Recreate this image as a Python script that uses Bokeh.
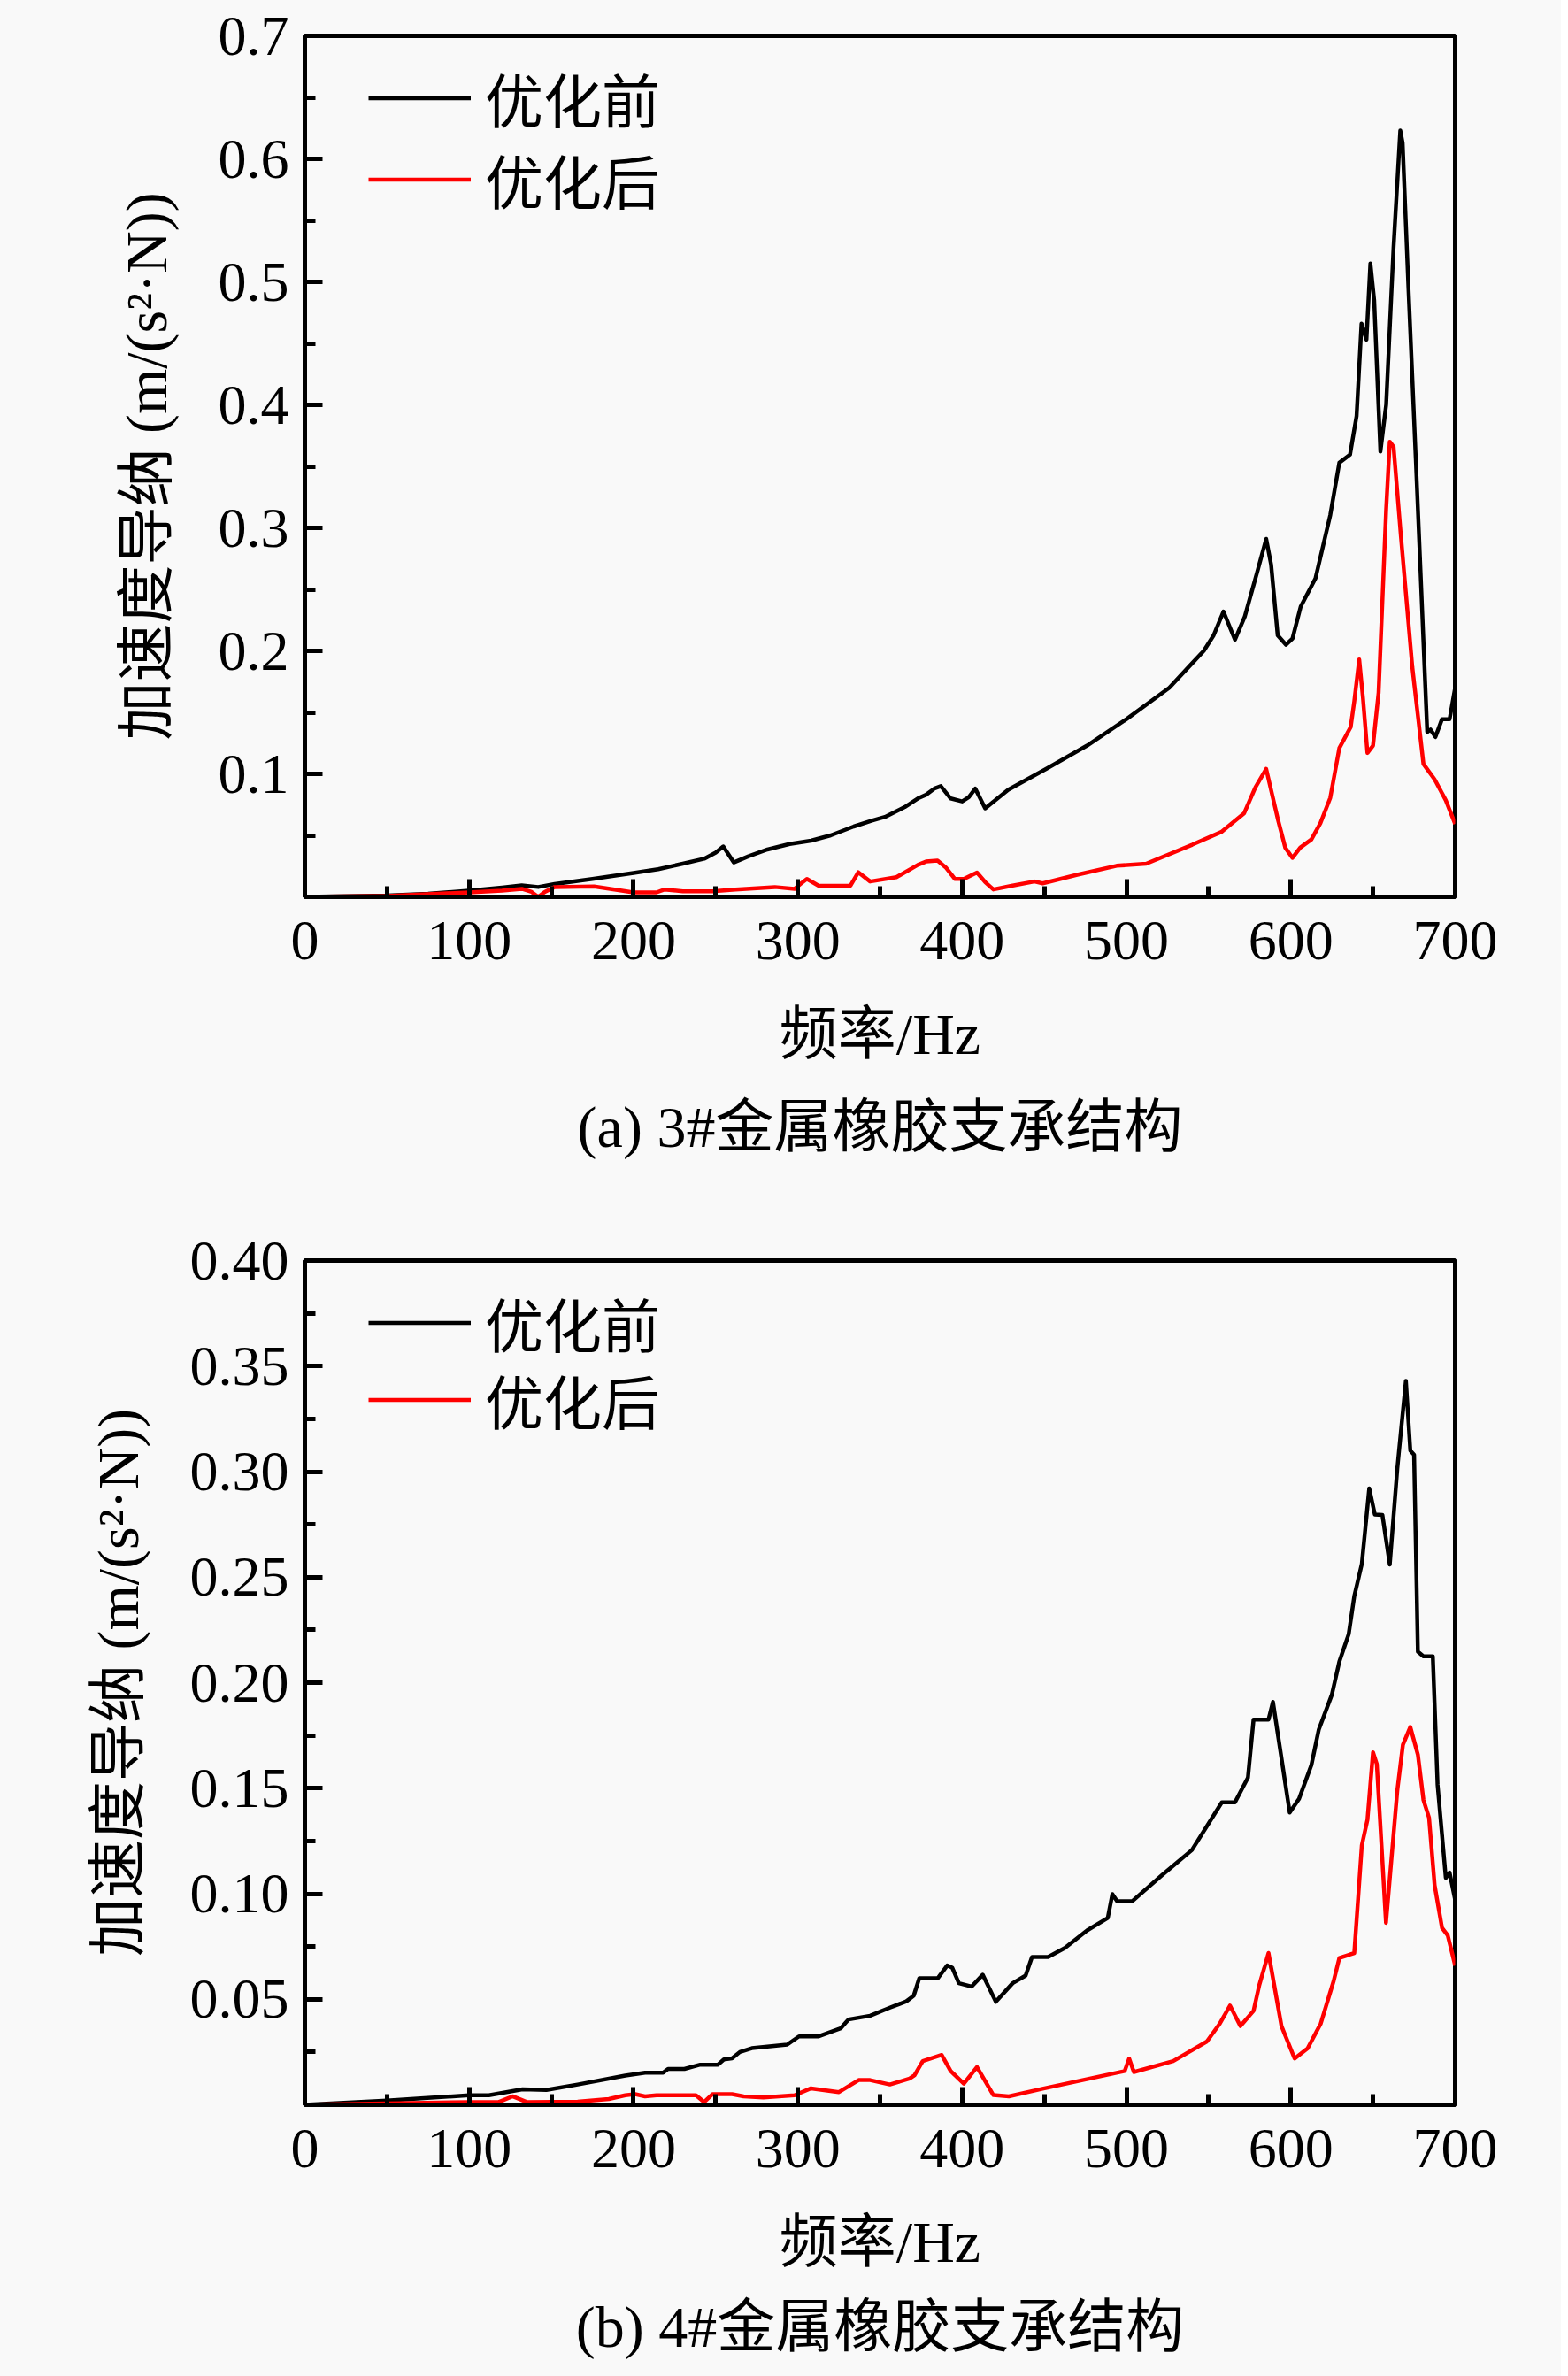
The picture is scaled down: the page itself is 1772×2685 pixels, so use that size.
from bokeh.plotting import figure
from bokeh.models import FixedTicker, PrintfTickFormatter, Legend, LegendItem, Title, Range1d
from bokeh.layouts import column
from bokeh.embed import file_html
from bokeh.resources import INLINE

# ---------------- data ----------------
a_before_f = [0, 25, 50, 75, 100, 120, 132, 142, 152, 175, 200, 215, 230, 243, 250, 254.6, 261, 270,
              281.5, 295, 308, 320, 334, 345, 353, 365, 373, 378, 383, 387, 393, 400, 404, 408, 414,
              428, 451, 476, 500, 526, 540, 547, 553, 559, 566, 572, 579.5, 585, 588, 592, 597, 601,
              606, 615, 624, 629.5, 636, 640, 643, 646, 648.4, 650.7, 654.5, 658, 662.5, 666.6, 668,
              671.6, 676, 680, 683, 685, 688, 692, 696.6, 700]
a_before = [0.0, 0.0005, 0.001, 0.0025, 0.005, 0.0075, 0.0093, 0.008, 0.0105, 0.0145, 0.0194, 0.0225,
            0.027, 0.031, 0.036, 0.041, 0.028, 0.033, 0.0385, 0.043, 0.0457, 0.050, 0.0572, 0.062,
            0.065, 0.073, 0.080, 0.083, 0.088, 0.090, 0.080, 0.0776, 0.081, 0.088, 0.072, 0.087,
            0.104, 0.123, 0.1445, 0.170, 0.190, 0.200, 0.2126, 0.232, 0.209, 0.228, 0.264, 0.291,
            0.270, 0.2126, 0.205, 0.210, 0.236, 0.259, 0.3105, 0.353, 0.3595, 0.391, 0.466, 0.453,
            0.515, 0.485, 0.362, 0.400, 0.528, 0.623, 0.613, 0.494, 0.357, 0.230, 0.134, 0.136,
            0.130, 0.1445, 0.1445, 0.170]

a_after_f = [0, 50, 100, 120, 132, 138, 142, 146, 152, 176, 200, 214, 219, 230, 248, 262, 286, 298,
             302, 305.5, 312.7, 332, 336.8, 344, 360, 373, 378, 385, 390, 395.5, 401, 409, 414, 419,
             430, 444, 449, 470, 494, 512, 540, 558, 571.6, 578.4, 585, 592, 596.6, 601, 605.7, 612.5,
             618, 624, 629.5, 636.4, 638.6, 641.6, 643.9, 646.6, 650, 653.4, 658, 660.2, 662.5, 667,
             673.9, 680.7, 687.5, 694.3, 700]
a_after = [0.0, 0.0008, 0.0036, 0.005, 0.0065, 0.004, 0.0, 0.004, 0.008, 0.0084, 0.0036, 0.0036, 0.006,
           0.0045, 0.0045, 0.006, 0.008, 0.0065, 0.011, 0.0146, 0.009, 0.009, 0.020, 0.0125, 0.016,
           0.026, 0.0287, 0.0295, 0.024, 0.0146, 0.0145, 0.0198, 0.012, 0.006, 0.009, 0.0125, 0.011,
           0.018, 0.0253, 0.027, 0.0424, 0.053, 0.068, 0.089, 0.104, 0.0636, 0.040, 0.0317, 0.040,
           0.0467, 0.060, 0.0806, 0.121, 0.138, 0.159, 0.193, 0.1615, 0.117, 0.123, 0.166, 0.315,
           0.370, 0.366, 0.293, 0.187, 0.108, 0.0955, 0.0785, 0.0593]

b_before_f = [0, 50, 100, 112, 132.5, 147, 166, 195, 207, 218, 221, 231, 240.6, 251.4, 255, 260, 264.7,
              272, 293.5, 300.7, 312.7, 326, 330.8, 344, 356, 366, 370.5, 373.9, 385.2, 390.9, 393.9,
              398, 405.7, 412.5, 420.5, 430.7, 438.6, 442.5, 452.3, 462.5, 476, 488.6, 491.4, 494.3,
              503.4, 521.6, 539.8, 558, 566, 573.9, 577.3, 586.4, 589.1, 599.3, 605, 612.5, 617, 625,
              629.5, 635.2, 638.6, 643.2, 647.7, 651.1, 655.7, 660.2, 664.8, 670, 672.7, 675, 677.3,
              680.7, 686.4, 689.3, 694.3, 696.6, 700]
b_before = [0.0, 0.002, 0.0045, 0.0045, 0.0073, 0.007, 0.0096, 0.0138, 0.0152, 0.0152, 0.017, 0.017,
            0.019, 0.019, 0.0215, 0.022, 0.025, 0.0268, 0.0285, 0.0324, 0.0324, 0.0362, 0.0404, 0.0422,
            0.046, 0.049, 0.0517, 0.060, 0.060, 0.066, 0.065, 0.0576, 0.056, 0.0616, 0.0488, 0.0576,
            0.0612, 0.070, 0.070, 0.0743, 0.0826, 0.0885, 0.0998, 0.0964, 0.0964, 0.1088, 0.1207,
            0.1433, 0.1433, 0.155, 0.1825, 0.1825, 0.1909, 0.1385, 0.145, 0.161, 0.1778, 0.1944, 0.210,
            0.223, 0.241, 0.2563, 0.292, 0.2797, 0.2795, 0.256, 0.3015, 0.343, 0.310, 0.308, 0.2147,
            0.2125, 0.2125, 0.1516, 0.1075, 0.110, 0.097]

b_after_f = [0, 100, 118, 126.4, 135, 166, 185, 195, 201, 207, 214, 238, 243, 248, 260, 267, 279, 298,
             308, 325, 337, 344, 356, 368, 371, 376, 387.5, 393, 401, 409, 419, 428.4, 448.9, 498.9,
             501.6, 504.5, 528.4, 548.9, 556.8, 563, 569.3, 577.3, 580.7, 586.4, 594.3, 602.3, 610.2,
             618.2, 626.1, 629.5, 638.6, 643.2, 646.6, 650, 652.3, 657.9, 664.8, 668.2, 672.7, 677.3,
             680.7, 684.1, 687.5, 692, 695.5, 700]
b_after = [0.0, 0.0013, 0.0013, 0.004, 0.0013, 0.0015, 0.0027, 0.0045, 0.005, 0.004, 0.0045, 0.0045,
           0.0013, 0.005, 0.005, 0.004, 0.0035, 0.0045, 0.0078, 0.006, 0.0117, 0.0117, 0.0096, 0.0124,
           0.014, 0.0207, 0.0236, 0.016, 0.010, 0.0179, 0.0046, 0.004, 0.0076, 0.016, 0.0219, 0.0155,
           0.0207, 0.030, 0.0385, 0.047, 0.0373, 0.0445, 0.0564, 0.0719, 0.0373, 0.0219, 0.0267,
           0.0385, 0.0588, 0.0695, 0.0719, 0.123, 0.135, 0.167, 0.1615, 0.0862, 0.149, 0.1706, 0.179,
           0.1659, 0.1444, 0.136, 0.104, 0.0838, 0.0802, 0.066]

x_ticks = [0, 100, 200, 300, 400, 500, 600, 700]
x_minor = [50, 150, 250, 350, 450, 550, 650]
a_y_ticks = [0.1, 0.2, 0.3, 0.4, 0.5, 0.6, 0.7]
a_y_minor = [0.05, 0.15, 0.25, 0.35, 0.45, 0.55, 0.65]
b_y_ticks = [0.05, 0.10, 0.15, 0.20, 0.25, 0.30, 0.35, 0.40]
b_y_minor = [0.025, 0.075, 0.125, 0.175, 0.225, 0.275, 0.325, 0.375]

series_labels = ["优化前", "优化后"]
x_label = "频率/Hz"
y_label = "加速度导纳 (m/(s²·N))"
captions = ["(a) 3#金属橡胶支承结构", "(b) 4#金属橡胶支承结构"]

# ---------------- style ----------------
FONT = "'Liberation Serif', 'Noto Sans CJK SC'"
TICK_FS = "64px"
LABEL_FS = "66px"
BG = "#f9f9f9"


def make_legend(label, renderer, vy):
    return Legend(items=[LegendItem(label=label, renderers=[renderer])],
                  location=(72, vy), orientation="vertical",
                  glyph_width=116, glyph_height=95, label_height=95,
                  spacing=0, padding=0, margin=0, label_standoff=16,
                  label_text_font=FONT, label_text_font_size=LABEL_FS, label_text_color="black",
                  border_line_alpha=0, background_fill_alpha=0)


def panel(fb, yb, fa, ya, ymax, yt, ym, fmt, caption, cap_standoff, height, btop, bbot, leg_vys):
    p = figure(width=1764, height=height, output_backend="svg", toolbar_location=None,
               x_range=Range1d(0, 700), y_range=Range1d(0, ymax),
               min_border_left=344, min_border_right=120,
               min_border_top=btop, min_border_bottom=bbot,
               background_fill_color=BG, border_fill_color=BG)
    p.grid.visible = False
    p.outline_line_color = "black"
    p.outline_line_width = 5
    p.outline_line_alpha = 1

    r1 = p.line(fb, yb, line_color="black", line_width=4.5, line_join="round")
    r2 = p.line(fa, ya, line_color="#ff0000", line_width=4.5, line_join="round")

    p.xaxis.ticker = FixedTicker(ticks=x_ticks, minor_ticks=x_minor)
    p.yaxis.ticker = FixedTicker(ticks=yt, minor_ticks=ym)
    p.yaxis.formatter = PrintfTickFormatter(format=fmt)
    for ax in (p.xaxis, p.yaxis):
        ax.axis_line_width = 5
        ax.major_tick_line_width = 5
        ax.minor_tick_line_width = 5
        ax.major_tick_in = 20
        ax.major_tick_out = 0
        ax.minor_tick_in = 12
        ax.minor_tick_out = 0
        ax.major_label_text_font = FONT
        ax.major_label_text_font_size = TICK_FS
        ax.major_label_text_color = "black"
        ax.axis_label_text_font = FONT
        ax.axis_label_text_font_size = LABEL_FS
        ax.axis_label_text_font_style = "normal"
        ax.axis_label_text_color = "black"
    p.xaxis.major_label_standoff = 28
    p.yaxis.major_label_standoff = 18
    p.xaxis.axis_label = x_label
    p.xaxis.axis_label_standoff = 45
    p.yaxis.axis_label = y_label
    p.yaxis.axis_label_standoff = 42

    cap = Title(text=caption, align="center", text_font=FONT, text_font_size=LABEL_FS,
                text_font_style="normal", text_color="black", standoff=cap_standoff)
    p.add_layout(cap, "below")

    p.add_layout(make_legend(series_labels[0], r1, leg_vys[0]))
    p.add_layout(make_legend(series_labels[1], r2, leg_vys[1]))
    return p


pa = panel(a_before_f, a_before, a_after_f, a_after, 0.7, a_y_ticks, a_y_minor, "%.1f",
           captions[0], 54, 1338, 40, 325, (855, 763))
pb = panel(b_before_f, b_before, b_after_f, b_after, 0.40, b_y_ticks, b_y_minor, "%.2f",
           captions[1], 36, 1347, 86, 307, (836, 749))

layout = column(pa, pb, spacing=0, styles={"background-color": BG})

open("out.html", "w").write(file_html(layout, INLINE))
